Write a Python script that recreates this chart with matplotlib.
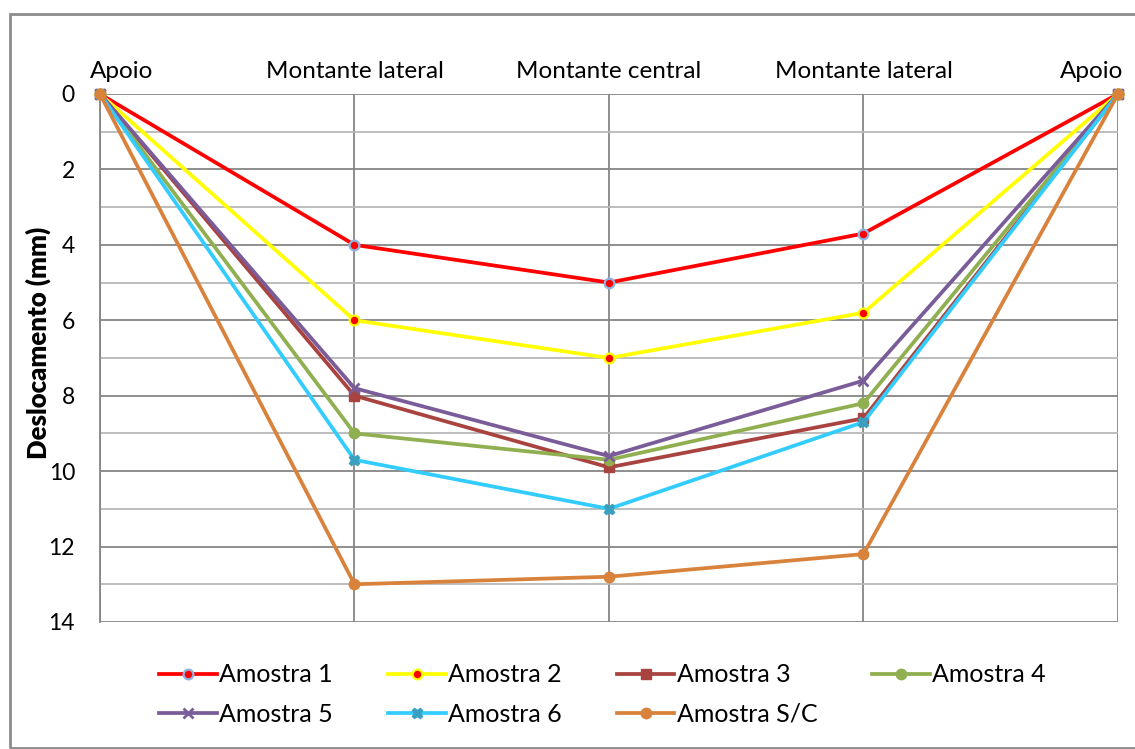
import matplotlib.pyplot as plt
from matplotlib.patches import Rectangle
from matplotlib.transforms import ScaledTranslation

plt.rcParams['font.family'] = ['Lato', 'DejaVu Sans']

positions = ["Apoio", "Montante lateral", "Montante central", "Montante lateral", "Apoio"]
amostra_1 = [0, 4.0, 5.0, 3.7, 0]
amostra_2 = [0, 6.0, 7.0, 5.8, 0]
amostra_3 = [0, 8.0, 9.9, 8.6, 0]
amostra_4 = [0, 9.0, 9.7, 8.2, 0]
amostra_5 = [0, 7.8, 9.6, 7.6, 0]
amostra_6 = [0, 9.7, 11.0, 8.7, 0]
amostra_sc = [0, 13.0, 12.8, 12.2, 0]

fig = plt.figure(figsize=(11.35, 7.49), dpi=100)
ax = fig.add_axes([0.0881, 0.1696, 0.8969, 0.7049])

# outer chart frame
fig.patches.append(Rectangle((10 / 1135, 1.5 / 749), 1.2, 733.5 / 749,
                             transform=fig.transFigure, fill=False,
                             edgecolor="#8c8c8c", linewidth=2))

x = list(range(len(positions)))
series = [
    ("Amostra 1", amostra_1, dict(color="#ff0000", marker="o", markerfacecolor="#ff0000",
                                  markeredgecolor="#8eb4e3", markersize=7, markeredgewidth=1.6)),
    ("Amostra 2", amostra_2, dict(color="#ffff00", marker="o", markerfacecolor="#ff0000",
                                  markeredgecolor="#ffff00", markersize=7, markeredgewidth=1.6)),
    ("Amostra 3", amostra_3, dict(color="#a9433f", marker="s", markersize=7.5)),
    ("Amostra 4", amostra_4, dict(color="#8faf50", marker="o", markersize=7.5)),
    ("Amostra 5", amostra_5, dict(color="#7a5c99", marker="x", markersize=7.5, markeredgewidth=2)),
    ("Amostra 6", amostra_6, dict(color="#33ccff", marker="X", markerfacecolor="#3aa0c0",
                                  markeredgecolor="#3aa0c0", markersize=7.5)),
    ("Amostra S/C", amostra_sc, dict(color="#d9823b", marker="o", markersize=7.5)),
]

handles = {}
for name, vals, style in series:
    h = ax.plot(x, vals, linewidth=2.7, label=name, clip_on=False, zorder=3, **style)[0]
    handles[name] = h

ax.set_xlim(0, 4)
ax.set_ylim(14, 0)
ax.set_yticks(range(0, 15, 2))
ax.set_yticks(range(1, 15, 2), minor=True)
ax.grid(axis="y", which="major", color="#868686", linewidth=1.3)
ax.grid(axis="y", which="minor", color="#b8b8b8", linewidth=1.3)
ax.grid(axis="x", which="major", color="#868686", linewidth=1.3)
ax.set_axisbelow(True)

# category names above the plot; the end ones are pulled inside the frame
ax.set_xticks(x)
ax.tick_params(axis="x", length=0, labelbottom=False, labeltop=False)
trans = ax.get_xaxis_transform()
for i, name in enumerate(positions):
    ha, dx = "center", 0.0
    if i == 0:
        ha, dx = "left", -0.10
    elif i == len(positions) - 1:
        ha, dx = "right", 0.05
    ax.text(i, 1.0, name, ha=ha, va="bottom", fontsize=17.5,
            transform=trans + ScaledTranslation(dx, 0.12, fig.dpi_scale_trans))

ax.tick_params(axis="y", which="both", length=0, pad=18, labelsize=16.5)

for side in ["top", "right", "bottom"]:
    ax.spines[side].set_visible(False)
ax.spines["left"].set_color("#868686")
ax.spines["left"].set_linewidth(1.3)

ax.set_ylabel("Deslocamento (mm)", fontsize=18.5, fontweight="heavy")
ax.yaxis.set_label_coords(-0.048, 0.528)

order = ["Amostra 1", "Amostra 5", "Amostra 2", "Amostra 6",
         "Amostra 3", "Amostra S/C", "Amostra 4"]
fig.legend([handles[n] for n in order], order, ncol=4, frameon=False,
           loc="center", bbox_to_anchor=(0.531, 0.0728), fontsize=18,
           handlelength=2.3, columnspacing=2.2, handletextpad=0.1, labelspacing=0.65,
           borderpad=0.0)

fig.savefig("out.png", dpi=100)
